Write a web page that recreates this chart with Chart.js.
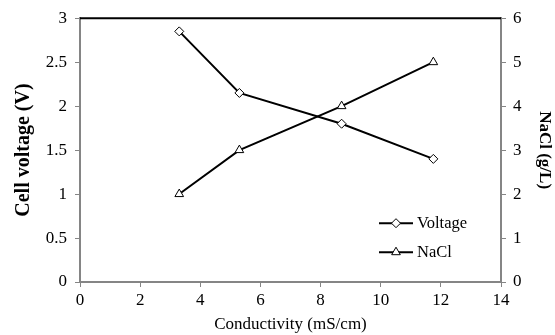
<!DOCTYPE html>
<html>
<head>
<meta charset="utf-8">
<script src="https://cdn.jsdelivr.net/npm/chart.js@4"></script>
<style>
  html, body { margin: 0; padding: 0; background: #fff; }
  #wrap { width: 555px; height: 335px; }
</style>
</head>
<body>
<div id="wrap"><canvas id="chart" width="555" height="335"></canvas></div>
<script>
// Conductivity vs cell voltage / NaCl

const conductivity = [3.3, 5.3, 8.7, 11.75];
const voltage = [2.85, 2.15, 1.8, 1.4];
const nacl = [2, 3, 4, 5];

const xTicks = [0, 2, 4, 6, 8, 10, 12, 14];
const seriesLabels = ["Voltage", "NaCl"];

const serif = "'Liberation Serif', 'Times New Roman', serif";
const axisGrey = "#858585";

function toPoints(xs, ys) {
    return xs.map((x, i) => ({ x: x, y: ys[i] }));
}

// draws the black top border and the legend inside the plot
const framePlugin = {
    id: "frame",
    afterDraw(chart) {
        const ctx = chart.ctx;
        const a = chart.chartArea;
        ctx.save();
        ctx.strokeStyle = "#000";
        ctx.lineWidth = 2;
        ctx.beginPath();
        ctx.moveTo(a.left, a.top);
        ctx.lineTo(a.right, a.top);
        ctx.stroke();

        // legend
        const x0 = a.left + 299;
        const rows = [a.top + 205, a.top + 234];
        chart.data.datasets.forEach((ds, i) => {
            const y = rows[i];
            ctx.strokeStyle = "#000";
            ctx.lineWidth = 2;
            ctx.beginPath();
            ctx.moveTo(x0, y);
            ctx.lineTo(x0 + 34, y);
            ctx.stroke();
            ctx.lineWidth = 1;
            ctx.fillStyle = "#fff";
            Chart.helpers.drawPoint(ctx, {
                pointStyle: ds.pointStyle,
                radius: ds.pointRadius,
                borderWidth: 1
            }, x0 + 17, y);
            ctx.fillStyle = "#000";
            ctx.font = "16.5px " + serif;
            ctx.textBaseline = "middle";
            ctx.fillText(ds.label, x0 + 38, y);
        });
        ctx.restore();
    }
};

new Chart(document.getElementById("chart"), {
    type: "scatter",
    data: {
        datasets: [{
            label: seriesLabels[0],
            data: toPoints(conductivity, voltage),
            yAxisID: "y",
            showLine: true,
            borderColor: "#000",
            borderWidth: 2,
            pointStyle: "rectRot",
            pointRadius: 4.5,
            pointBorderWidth: 1,
            pointBackgroundColor: "#fff",
            pointBorderColor: "#000"
        }, {
            label: seriesLabels[1],
            data: toPoints(conductivity, nacl),
            yAxisID: "y2",
            showLine: true,
            borderColor: "#000",
            borderWidth: 2,
            pointStyle: "triangle",
            pointRadius: 5,
            pointBorderWidth: 1,
            pointBackgroundColor: "#fff",
            pointBorderColor: "#000"
        }]
    },
    options: {
        responsive: false,
        animation: false,
        layout: { padding: { top: 18, left: 0, right: 0, bottom: 0 } },
        plugins: {
            legend: { display: false },
            tooltip: { enabled: false }
        },
        scales: {
            x: {
                type: "linear",
                min: 0,
                max: 14,
                afterBuildTicks: s => { s.ticks = xTicks.map(v => ({ value: v })); },
                grid: { display: true, drawOnChartArea: false, color: axisGrey, tickLength: 5, tickWidth: 1 },
                border: { color: axisGrey, width: 2 },
                ticks: { color: "#000", font: { family: serif, size: 17 }, padding: 3, maxRotation: 0 },
                title: { display: true, text: "Conductivity (mS/cm)", color: "#000", font: { family: serif, size: 17 }, padding: 0 },
                afterFit: s => { s.height = 53; }
            },
            y: {
                position: "left",
                min: 0,
                max: 3,
                ticks: { stepSize: 0.5, color: "#000", font: { family: serif, size: 17 }, padding: 8, callback: v => String(v) },
                grid: { display: true, drawOnChartArea: false, color: axisGrey, tickLength: 5, tickWidth: 1 },
                border: { color: axisGrey, width: 2 },
                title: { display: true, text: "Cell voltage (V)", color: "#000", font: { family: serif, size: 20, weight: "bold" }, padding: { top: 12, bottom: 0 } },
                afterFit: s => { s.width = 80; }
            },
            y2: {
                position: "right",
                min: 0,
                max: 6,
                ticks: { stepSize: 1, color: "#000", font: { family: serif, size: 17 }, padding: 7 },
                grid: { display: true, drawOnChartArea: false, color: axisGrey, tickLength: 5, tickWidth: 1 },
                border: { color: axisGrey, width: 2 },
                title: { display: true, text: "NaCl (g/L)", color: "#000", font: { family: serif, size: 17, weight: "bold" }, padding: 0 },
                afterFit: s => { s.width = 54; }
            }
        }
    },
    plugins: [framePlugin]
});
</script>
</body>
</html>
